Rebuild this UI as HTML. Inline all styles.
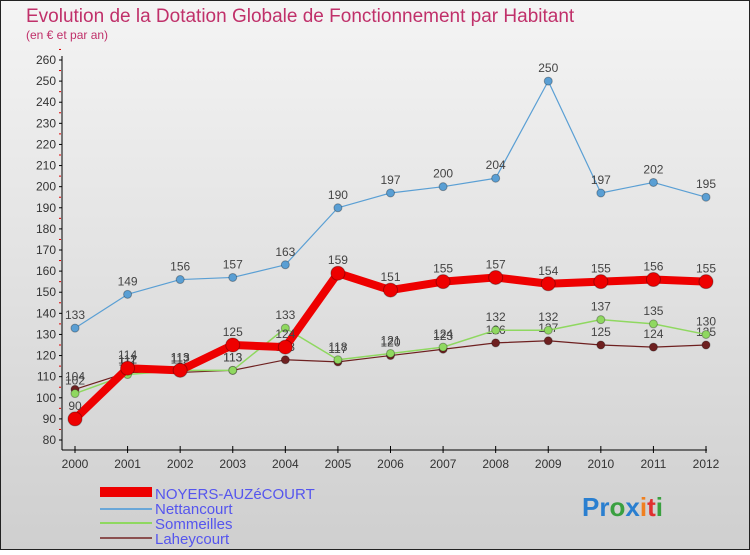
<!DOCTYPE html>
<html><head><meta charset="utf-8"><style>
body{margin:0;width:750px;height:550px;overflow:hidden;font-family:"Liberation Sans",sans-serif}
</style></head><body>
<svg id="c" width="750" height="550" xmlns="http://www.w3.org/2000/svg">
<defs><linearGradient id="bg" x1="0" y1="0" x2="0" y2="1"><stop offset="0" stop-color="#f4f4f4"/><stop offset="1" stop-color="#cfcfcf"/></linearGradient></defs>
<rect x="0.5" y="0.5" width="749" height="549" fill="url(#bg)" stroke="#222"/>
<text x="26" y="22" font-size="19" fill="#c0306a">Evolution de la Dotation Globale de Fonctionnement par Habitant</text>
<text x="26" y="39" font-size="12" fill="#c0306a">(en € et par an)</text>
<g id="axes"></g><g id="series"></g>
<g>
<rect x="100" y="487" width="52" height="10" fill="#e00"/>
<text x="155" y="499" font-size="15" fill="#5555ee">NOYERS-AUZéCOURT</text>
<line x1="100" y1="509" x2="152" y2="509" stroke="#6aa7d8" stroke-width="2"/>
<text x="155" y="514" font-size="15" fill="#5555ee">Nettancourt</text>
<line x1="100" y1="523" x2="152" y2="523" stroke="#8fd860" stroke-width="2"/>
<text x="155" y="529" font-size="15" fill="#5555ee">Sommeilles</text>
<line x1="100" y1="538" x2="152" y2="538" stroke="#8b5050" stroke-width="2"/>
<text x="155" y="544" font-size="15" fill="#5555ee">Laheycourt</text>
</g>
<text x="582" y="516" font-size="26" font-weight="bold"><tspan fill="#2a7fd0">Pr</tspan><tspan fill="#3aa040">o</tspan><tspan fill="#2a7fd0">x</tspan><tspan fill="#f08020">i</tspan><tspan fill="#e03030">t</tspan><tspan fill="#3aa040">i</tspan></text>
</svg>
<script>
const years=[2000,2001,2002,2003,2004,2005,2006,2007,2008,2009,2010,2011,2012];
const noyers=[90,114,113,125,124,159,151,155,157,154,155,156,155];
const nettancourt=[133,149,156,157,163,190,197,200,204,250,197,202,195];
const sommeilles=[102,111,113,113,133,118,121,124,132,132,137,135,130];
const laheycourt=[104,112,112,113,118,117,120,123,126,127,125,124,125];
const yTicks=[80,90,100,110,120,130,140,150,160,170,180,190,200,210,220,230,240,250,260];
const NS="http://www.w3.org/2000/svg";
const X=i=>75+i*(631/12), Y=v=>440-(v-80)*(380/180);
function mk(t,a,p){const e=document.createElementNS(NS,t);for(const k in a)e.setAttribute(k,a[k]);p.appendChild(e);return e;}
const ax=document.getElementById('axes'), se=document.getElementById('series');
let l=mk('line',{x1:62,y1:56,x2:62,y2:450,stroke:'#000'},ax);


l=mk('line',{x1:62,y1:450,x2:707,y2:450,stroke:'#000'},ax);


yTicks.forEach(v=>{
 mk('line',{x1:59,y1:Y(v),x2:62,y2:Y(v),stroke:'#000'},ax);
 mk('line',{x1:59,y1:Y(v+5),x2:61,y2:Y(v+5),stroke:'#d00'},ax);
 const t=mk('text',{x:56,y:Y(v)+4,'font-size':12,'text-anchor':'end',fill:'#333'},ax);t.textContent=v;
 
 
});
years.forEach((y,i)=>{
 mk('line',{x1:X(i),y1:446,x2:X(i),y2:453,stroke:'#000'},ax);
 const t=mk('text',{x:X(i),y:468,'font-size':12,'text-anchor':'middle',fill:'#333'},ax);t.textContent=y;
 
 
});
function series(d,name,col,w,r){
 const g=mk('g',{},se);
 
 
 mk('polyline',{points:d.map((v,i)=>X(i)+','+Y(v)).join(' '),fill:'none',stroke:col,'stroke-width':w,'stroke-linejoin':'round'},g);
 d.forEach((v,i)=>{
  const c=mk('circle',{cx:X(i),cy:Y(v),r:r,fill:col,stroke:'rgba(0,0,0,0.3)'},g);
  
  
  const t=mk('text',{x:X(i),y:Y(v)-9,'font-size':12,'text-anchor':'middle',fill:'#444'},g);t.textContent=v;
  
  
 });
}
series(laheycourt,'laheycourt','#6e2020',1.2,4);
series(sommeilles,'sommeilles','#8fd860',1.5,4);
series(nettancourt,'nettancourt','#5a9fd4',1.2,4);
series(noyers,'noyers','#ee0000',8,7);
</script>
</body></html>
